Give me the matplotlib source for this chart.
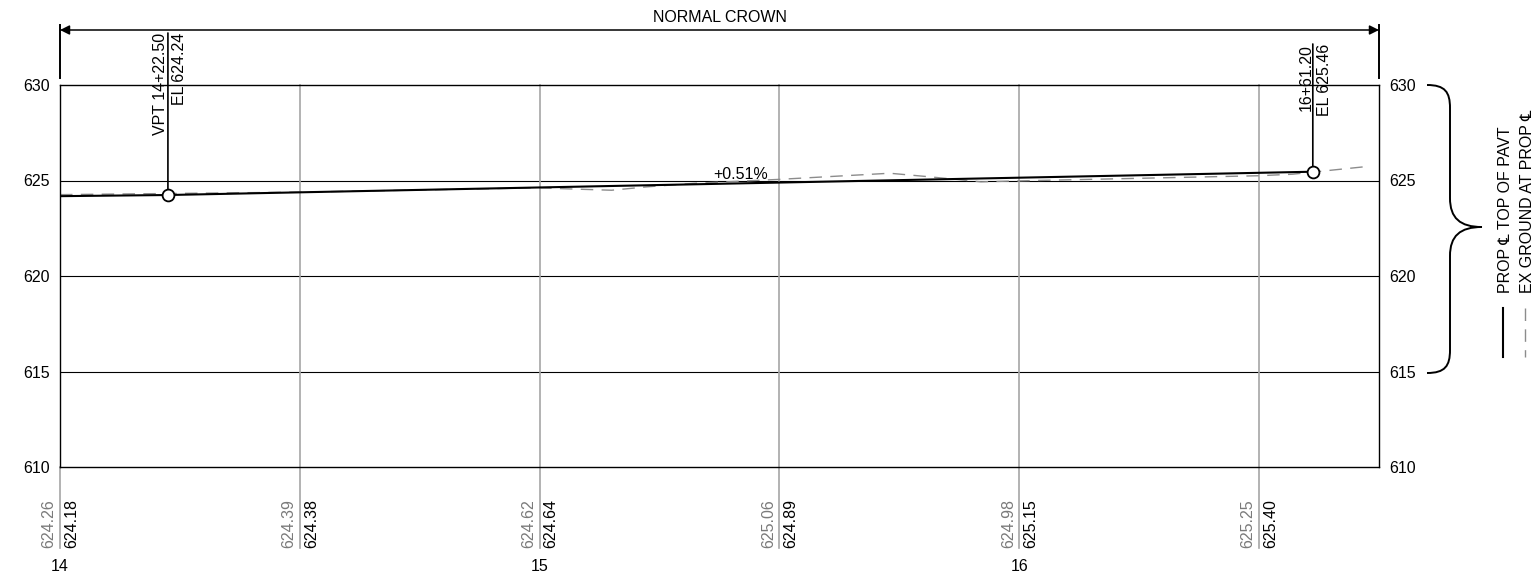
import matplotlib
matplotlib.use("Agg")
import matplotlib.pyplot as plt
from matplotlib.path import Path
from matplotlib.patches import PathPatch

plt.rcParams['font.family'] = ['Liberation Sans', 'DejaVu Sans']
plt.rcParams['font.size'] = 11.5

# stations are in feet (1400 = 14+00)
grid_sta = [1400, 1450, 1500, 1550, 1600, 1650]
ground_at_grid = [624.26, 624.39, 624.62, 625.06, 624.98, 625.25]
profile_at_grid = [624.18, 624.38, 624.64, 624.89, 625.15, 625.40]

# proposed centerline profile
prof_sta = [1400, 1422.5, 1661.2]
prof_el = [624.18, 624.24, 625.46]

# existing ground
ground_sta = [1400, 1450, 1500, 1505, 1515, 1522, 1532, 1550, 1573, 1581, 1592, 1600, 1650, 1657, 1672]
ground_el = [624.26, 624.39, 624.62, 624.57, 624.49, 624.66, 624.85, 625.06, 625.38, 625.20,
             624.93, 624.98, 625.25, 625.33, 625.72]

# labelled points
pt_sta = [1422.5, 1661.2]
pt_el = [624.24, 625.46]
pt_left = ['VPT 14+22.50', '16+61.20']
pt_right = ['EL 624.24', 'EL 625.46']

major_sta = [1400, 1500, 1600]
major_lbl = ['14', '15', '16']
elev_ticks = [610, 615, 620, 625, 630]
grade_text = '+0.51%'

W, H = 1535, 575
fig = plt.figure(figsize=(W / 100, H / 100), dpi=100)

# overlay in pixel coords for the brace / legend
ov = fig.add_axes([0, 0, 1, 1])
ov.set_xlim(0, W)
ov.set_ylim(H, 0)
ov.axis('off')

ax = fig.add_axes([60 / W, 108 / H, 1319 / W, 382 / H])
ax.set_xlim(1400, 1675)
ax.set_ylim(610, 630)


def fy(ypx):
    # pixel row -> axes fraction
    return (467 - ypx) / 382.0


def pt(px):
    return px * 0.72


for s in ax.spines.values():
    s.set_linewidth(1.0)
    s.set_color('black')

# horizontal grid
for e in [615, 620, 625]:
    ax.axhline(e, color='black', lw=0.8, zorder=1)

# vertical grid, running down into the label band
tr = ax.get_xaxis_transform()
for s in grid_sta:
    ax.plot([s, s], [fy(548), 1 if s != 1400 else 0], transform=tr, color='#a6a6a6',
            lw=1.2, clip_on=False, zorder=1)

# ground and profile
ax.plot(ground_sta, ground_el, color='#8c8c8c', lw=1.0, dashes=(9, 6), zorder=2)
ax.plot(prof_sta, prof_el, color='black', lw=1.5, zorder=3)

# callouts
tops = [fy(33), fy(44)]
for s, e, l, r, t in zip(pt_sta, pt_el, pt_left, pt_right, tops):
    ax.annotate('', xy=(s, e), xycoords='data', xytext=(s, t),
                textcoords=('data', 'axes fraction'),
                arrowprops=dict(arrowstyle='-', color='black', lw=1.2, shrinkA=0, shrinkB=0),
                zorder=4)
    ax.annotate(l, xy=(s, t), xycoords=('data', 'axes fraction'), xytext=(pt(0.5), 0),
                textcoords='offset points', rotation=90, ha='right', va='top')
    ax.annotate(r, xy=(s, t), xycoords=('data', 'axes fraction'), xytext=(pt(4), 0),
                textcoords='offset points', rotation=90, ha='left', va='top')
ax.plot(pt_sta, pt_el, 'o', ms=8.5, mfc='white', mec='black', mew=1.3, zorder=5)

ax.text(1542, 625.08, grade_text, ha='center', va='baseline')

# elevations under each grid station
for s, g, p in zip(grid_sta, ground_at_grid, profile_at_grid):
    ax.annotate(f'{g:.2f}', xy=(s, fy(548)), xycoords=('data', 'axes fraction'),
                xytext=(pt(-3.5), 0), textcoords='offset points', rotation=90,
                ha='right', va='bottom', color='#7a7a7a')
    ax.annotate(f'{p:.2f}', xy=(s, fy(548)), xycoords=('data', 'axes fraction'),
                xytext=(pt(4), 0), textcoords='offset points', rotation=90,
                ha='left', va='bottom', color='black')

ax.set_xticks(major_sta)
ax.set_xticklabels(major_lbl)
ax.tick_params(axis='x', length=0, pad=pt(92))
ax.set_yticks(elev_ticks)
ax.tick_params(axis='y', length=0, pad=pt(10), labelright=True)

# NORMAL CROWN dimension
for xf in [0, 1]:
    ax.plot([xf, xf], [fy(25), fy(78)], transform=ax.transAxes, color='black', lw=1.4,
            clip_on=False)
ax.annotate('', xy=(0, fy(30)), xycoords='axes fraction', xytext=(1, fy(30)),
            arrowprops=dict(arrowstyle='<|-|>', color='black', lw=1.1,
                            mutation_scale=14, shrinkA=0, shrinkB=0))
ax.text(0.5, fy(18), 'NORMAL CROWN', transform=ax.transAxes, ha='center', va='center')

# brace on the right
verts = [(1427, 85), (1445, 85), (1450, 92), (1450, 108),
         (1450, 198),
         (1450, 218), (1460, 227), (1482, 227),
         (1460, 227), (1450, 236), (1450, 256),
         (1450, 350),
         (1450, 366), (1445, 373), (1427, 373)]
codes = [Path.MOVETO, Path.CURVE4, Path.CURVE4, Path.CURVE4,
         Path.LINETO,
         Path.CURVE4, Path.CURVE4, Path.CURVE4,
         Path.CURVE4, Path.CURVE4, Path.CURVE4,
         Path.LINETO,
         Path.CURVE4, Path.CURVE4, Path.CURVE4]
ov.add_patch(PathPatch(Path(verts, codes), fill=False, lw=1.4, edgecolor='black'))

# legend
ov.plot([1503, 1503], [308, 357], color='black', lw=1.5)
ov.plot([1525, 1525], [308, 357], color='#8c8c8c', lw=1.0, dashes=(9, 6))
ov.text(1506, 293, 'PROP \u2104 TOP OF PAVT', rotation=90, ha='center', va='bottom')
ov.text(1527, 293, 'EX GROUND AT PROP \u2104', rotation=90, ha='center', va='bottom')

fig.savefig('out.png', dpi=100)
